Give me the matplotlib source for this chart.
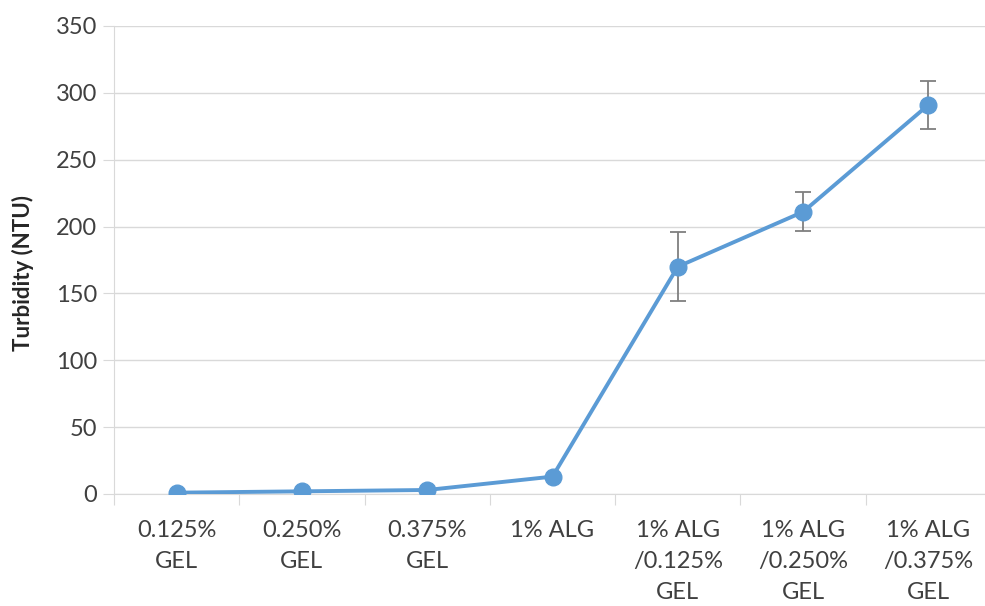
import matplotlib.pyplot as plt

categories = ['0.125%\nGEL', '0.250%\nGEL', '0.375%\nGEL', '1% ALG',
              '1% ALG\n/0.125%\nGEL', '1% ALG\n/0.250%\nGEL', '1% ALG\n/0.375%\nGEL']
turbidity = [1, 2, 3, 13, 170, 211, 291]
errors = [0, 0, 0, 0, 26, 14.5, 18]
y_ticks = [0, 50, 100, 150, 200, 250, 300, 350]

plt.rcParams['font.family'] = ['Lato', 'DejaVu Sans']

fig = plt.figure(figsize=(9.85, 6.06), dpi=100)
ax = fig.add_axes([114 / 985, 112 / 606, 877 / 985, 468 / 606])

x = list(range(len(categories)))
ax.errorbar(x, turbidity, yerr=errors, fmt='none', ecolor='#7f7f7f',
            elinewidth=1.3, capsize=6, capthick=1.3, zorder=2)
ax.plot(x, turbidity, color='#5b9bd5', linewidth=2.8, marker='o',
        markersize=12, zorder=3)

ax.set_xlim(-0.5, len(categories) - 0.5)
ax.set_ylim(0, 350)
ax.set_yticks(y_ticks)
ax.yaxis.grid(True, color='#d9d9d9', linewidth=1)
ax.set_axisbelow(True)

# category boundaries carry the tick marks, labels sit in the middle
ax.set_xticks([i - 0.5 for i in range(len(categories) + 1)])
ax.set_xticklabels([])
ax.tick_params(axis='x', direction='out', length=8, color='#d9d9d9')
ax.tick_params(axis='y', direction='out', length=8, color='#d9d9d9',
               labelsize=17, labelcolor='#404040', pad=4)
for i, lab in enumerate(categories):
    ax.text(i, -19.5, lab, ha='center', va='top', fontsize=17,
            color='#404040', linespacing=1.6)

for side in ['top', 'right']:
    ax.spines[side].set_visible(False)
for side in ['left', 'bottom']:
    ax.spines[side].set_color('#d9d9d9')

fig.text(23 / 985, 1 - 273 / 606, 'Turbidity (NTU)', rotation=90,
         ha='center', va='center', fontsize=16, fontweight='bold',
         color='#262626')

fig.savefig('out.png', dpi=100)
